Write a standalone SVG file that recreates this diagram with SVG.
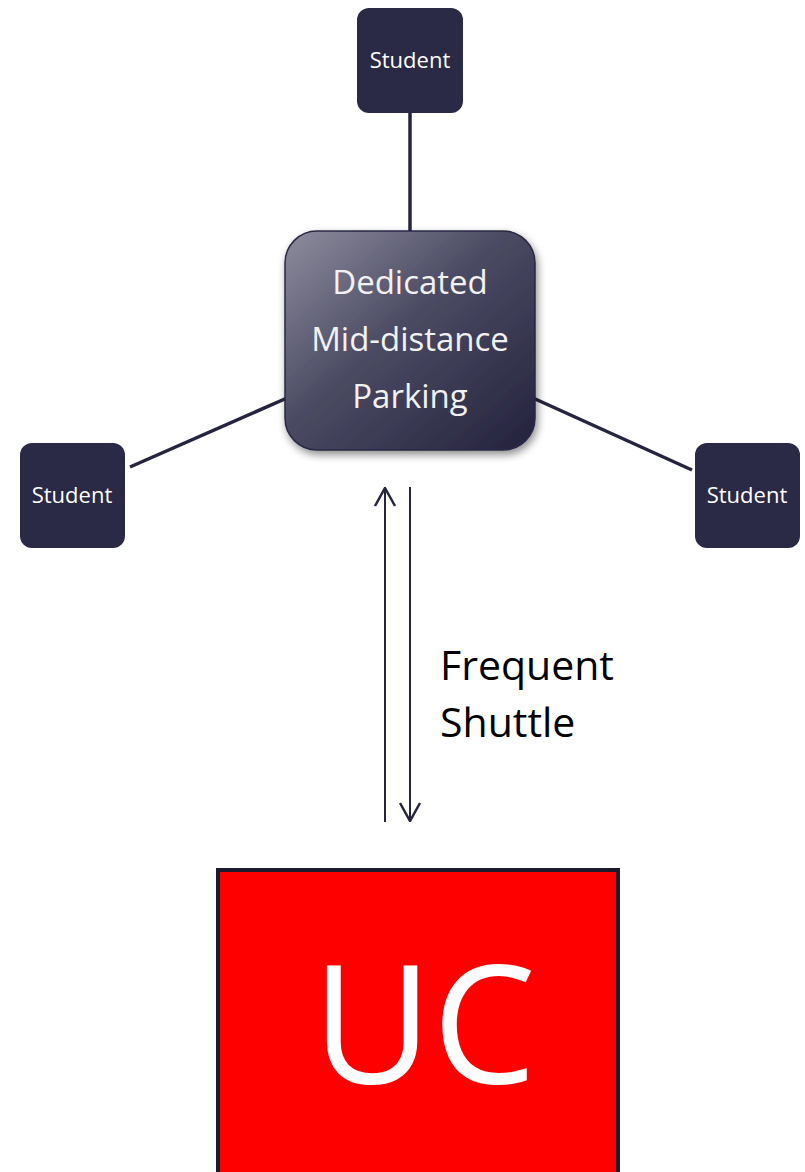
<svg xmlns="http://www.w3.org/2000/svg" width="805" height="1172" viewBox="0 0 805 1172">
  <defs>
    <linearGradient id="hubFill" x1="0" y1="0" x2="1" y2="1">
      <stop offset="0" stop-color="#8e8d9e"/>
      <stop offset="0.45" stop-color="#4b4a63"/>
      <stop offset="1" stop-color="#23223d"/>
    </linearGradient>
    <filter id="shadow" x="-20%" y="-20%" width="140%" height="140%">
      <feGaussianBlur in="SourceAlpha" stdDeviation="4"/>
      <feOffset dx="2" dy="4" result="b"/>
      <feComponentTransfer><feFuncA type="linear" slope="0.45"/></feComponentTransfer>
      <feMerge><feMergeNode/><feMergeNode in="SourceGraphic"/></feMerge>
    </filter>
    <!-- open arrowhead, tip along +x -->
    <marker id="arrowHead" viewBox="0 0 20 24" refX="19" refY="12" markerWidth="20" markerHeight="24" markerUnits="userSpaceOnUse" orient="auto">
      <path d="M1,2 L19,12 L1,22" fill="none" stroke="#26253f" stroke-width="2.5"/>
    </marker>
  </defs>
  <style>
    .student { fill: #2a2946; }
    .studentText { font-family: "Open Sans", "Liberation Sans", sans-serif; font-size: 22px; fill: #ffffff; text-anchor: middle; }
    .link { stroke: #26253f; stroke-width: 3.5; fill: none; }
    .shuttle { stroke: #26253f; stroke-width: 2; fill: none; }
    .hubText { font-family: "Open Sans", "Liberation Sans", sans-serif; font-size: 33px; fill: #f2f2f2; text-anchor: middle; }
    .label { font-family: "Open Sans", "Liberation Sans", sans-serif; font-size: 41px; fill: #000000; }
  </style>

  <g id="connectors">
    <line class="link" x1="410" y1="112" x2="410" y2="232"/>
    <line class="link" x1="130" y1="467" x2="287" y2="398"/>
    <line class="link" x1="533" y1="398" x2="692" y2="470"/>
    <line class="shuttle" x1="385" y1="822" x2="385" y2="488" marker-end="url(#arrowHead)"/>
    <line class="shuttle" x1="410" y1="487" x2="410" y2="821" marker-end="url(#arrowHead)"/>
  </g>

  <g id="student-top">
    <rect class="student" x="357" y="8" width="106" height="105" rx="12"/>
    <text class="studentText" x="410" y="68">Student</text>
  </g>
  <g id="student-left">
    <rect class="student" x="20" y="443" width="105" height="105" rx="12"/>
    <text class="studentText" x="72" y="503">Student</text>
  </g>
  <g id="student-right">
    <rect class="student" x="695" y="443" width="105" height="105" rx="12"/>
    <text class="studentText" x="747" y="503">Student</text>
  </g>

  <g id="parking-hub">
    <rect x="285" y="231" width="250" height="219" rx="32" fill="url(#hubFill)" stroke="#2a2946" stroke-width="1.5" filter="url(#shadow)"/>
    <text class="hubText" x="410" y="294">Dedicated</text>
    <text class="hubText" x="410" y="351">Mid-distance</text>
    <text class="hubText" x="410" y="408">Parking</text>
  </g>

  <g id="shuttle-label">
    <text class="label" x="440" y="680">Frequent</text>
    <text class="label" x="440" y="737">Shuttle</text>
  </g>

  <g id="uc">
    <rect x="218" y="870" width="400" height="320" fill="#ff0000" stroke="#1c1b2e" stroke-width="4"/>
    <text x="424" y="1083" font-family="Open Sans, Liberation Sans, sans-serif" font-size="165" fill="#ffffff" text-anchor="middle">UC</text>
  </g>
</svg>
